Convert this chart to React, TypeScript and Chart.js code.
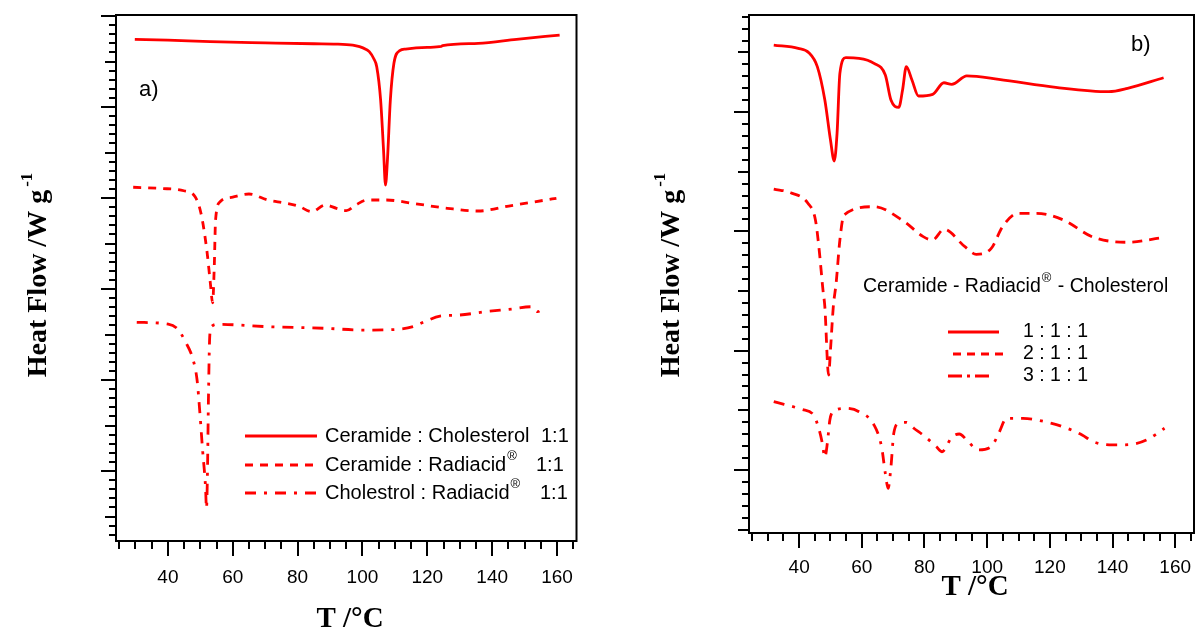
import React, { useEffect, useRef } from "react";
import { Chart, registerables } from "chart.js";

Chart.register(...registerables);

// ---------- Data (T in °C, heat flow in arbitrary offset units) ----------
// Panel a)
const ccT = [29.8, 40, 53.1, 70, 85, 92.0, 97, 99.1, 101, 102.1, 103.5, 104.4, 105.6, 106.5, 107.1, 107.7, 108.6, 109.7, 111.5, 113.3, 120, 124.3, 124.7, 135.7, 147.5, 160.8];
const ccHF = [4.744, 4.735, 4.718, 4.705, 4.695, 4.692, 4.68, 4.663, 4.635, 4.608, 4.53, 4.443, 4.077, 3.527, 3.143, 3.418, 4.077, 4.48, 4.619, 4.637, 4.655, 4.665, 4.675, 4.7, 4.744, 4.791];

const crT = [29.3, 38, 44.9, 48.4, 50.2, 52.0, 53.1, 53.8, 54.3, 54.7, 56.1, 60, 65.0, 70.8, 76, 80.2, 84.4, 88.5, 92.0, 95.0, 97.9, 101.5, 107.4, 115.6, 126.2, 135.7, 145.1, 159.8];
const crHF = [3.118, 3.105, 3.08, 3.014, 2.832, 2.429, 2.063, 1.849, 2.245, 2.758, 2.959, 3.01, 3.044, 2.978, 2.945, 2.912, 2.85, 2.923, 2.887, 2.861, 2.923, 2.978, 2.978, 2.941, 2.887, 2.857, 2.912, 2.997];

const chrT = [30.4, 40.1, 43.1, 45.4, 47.8, 49.0, 49.8, 50.7, 51.6, 51.9, 52.2, 52.5, 52.9, 53.4, 55.5, 70.8, 88.5, 100.3, 110.9, 115.6, 119.2, 123.9, 129.8, 138.0, 146, 152.2, 154.0, 156.3];
const chrHF = [1.634, 1.615, 1.557, 1.421, 1.22, 1.0, 0.67, 0.231, -0.172, -0.41, -0.026, 0.78, 1.476, 1.586, 1.612, 1.586, 1.568, 1.549, 1.557, 1.586, 1.641, 1.703, 1.714, 1.751, 1.78, 1.805, 1.751, 1.805];

// Panel b)
const s1T = [31.9, 39.7, 43.1, 45.8, 48.2, 50.0, 51.2, 52.1, 53.0, 54.9, 59.1, 63.9, 67.5, 69.3, 71.8, 73.0, 74.2, 76.0, 78.1, 82.6, 86.2, 88.7, 93.5, 103.7, 121.9, 138.8, 144.8, 156.3];
const s1HF = [3.562, 3.535, 3.498, 3.381, 3.101, 2.766, 2.59, 2.822, 3.325, 3.456, 3.451, 3.409, 3.311, 3.101, 3.04, 3.185, 3.381, 3.269, 3.135, 3.149, 3.246, 3.233, 3.303, 3.275, 3.208, 3.171, 3.199, 3.288];

const s2T = [31.9, 37.3, 42.8, 45.2, 46.4, 47.6, 48.2, 49.4, 50.0, 50.9, 51.8, 53.0, 54.3, 63.9, 73.6, 79.6, 82.6, 86.2, 92.9, 96.5, 101.3, 104.9, 109.8, 115.8, 124.3, 133.9, 144.8, 155.7];
const s2HF = [2.355, 2.324, 2.236, 2.096, 1.844, 1.509, 1.369, 0.796, 1.006, 1.369, 1.565, 1.928, 2.137, 2.207, 2.081, 1.956, 1.928, 2.018, 1.872, 1.808, 1.858, 2.039, 2.152, 2.152, 2.096, 1.951, 1.909, 1.947];

const s3T = [31.9, 40.9, 44.6, 46.4, 47.4, 48.2, 49.0, 49.8, 51.2, 54.9, 59.1, 63.9, 66.3, 67.5, 68.4, 69.3, 70.2, 71.8, 74.2, 76.6, 80.2, 83.8, 85.6, 88.7, 91.1, 93.5, 97.1, 101.3, 103.7, 106.2, 111.4, 120.6, 125.5, 130.3, 133.9, 140.0, 146.0, 150.8, 156.6];
const s3HF = [0.573, 0.508, 0.461, 0.335, 0.224, 0.106, 0.224, 0.419, 0.497, 0.517, 0.489, 0.377, 0.195, -0.028, -0.153, 0.028, 0.308, 0.391, 0.4, 0.35, 0.28, 0.195, 0.153, 0.274, 0.302, 0.251, 0.168, 0.195, 0.308, 0.433, 0.433, 0.391, 0.35, 0.293, 0.237, 0.21, 0.215, 0.251, 0.35];

const xTickLabels = [40, 60, 80, 100, 120, 140, 160];

const legendA = ["Ceramide : Cholesterol", "Ceramide : Radiacid", "Cholestrol : Radiacid"];
const legendB = ["1 : 1 : 1", "2 : 1 : 1", "3 : 1 : 1"];
const legendBTitle = ["Ceramide - Radiacid", " - Cholesterol"];

// ---------- Styles ----------
const RED = "#ff0000";
const SANS = "'Liberation Sans', Arial, Helvetica, sans-serif";
const SERIF = "'Liberation Serif', 'Times New Roman', Times, serif";
const DASH = [8, 7];
const DASHDOT = [11, 8, 3, 8];

const pts = (t: number[], h: number[]) => t.map((x, i) => ({ x, y: h[i] }));

type PanelCfg = {
  yMin: number;
  yMax: number;
  yTickFrom: number; // in tenths
  yTickTo: number;
  xTitle: [number, number];
  yTitle: [number, number];
  extra: (ctx: CanvasRenderingContext2D) => void;
};

function seg(ctx: CanvasRenderingContext2D, x1: number, y1: number, x2: number, y2: number) {
  ctx.beginPath();
  ctx.moveTo(x1, y1);
  ctx.lineTo(x2, y2);
  ctx.stroke();
}

function drawSupText(ctx: CanvasRenderingContext2D, x: number, y: number, main: string, sup: string, size: number, supSize: number, rise: number) {
  ctx.font = `${size}px ${SANS}`;
  ctx.textAlign = "left";
  ctx.textBaseline = "middle";
  ctx.fillText(main, x, y);
  const w = ctx.measureText(main).width;
  ctx.font = `${supSize}px ${SANS}`;
  ctx.fillText(sup, x + w + 1, y - rise);
  return x + w + 1 + ctx.measureText(sup).width;
}

function legendLine(ctx: CanvasRenderingContext2D, x1: number, x2: number, y: number, dash: number[]) {
  ctx.save();
  ctx.strokeStyle = RED;
  ctx.lineWidth = 2.8;
  ctx.setLineDash(dash);
  seg(ctx, x1, y, x2, y);
  ctx.restore();
}

function framePlugin(cfg: PanelCfg) {
  return {
    id: "frameTicks",
    afterDraw(chart: any) {
      const ctx: CanvasRenderingContext2D = chart.ctx;
      const { left, right, top, bottom } = chart.chartArea;
      const xs = chart.scales.x;
      const ys = chart.scales.y;
      ctx.save();
      ctx.strokeStyle = "#000";
      ctx.lineWidth = 2;
      ctx.strokeRect(left, top, right - left, bottom - top);
      for (let v = 25; v <= 165; v += 5) {
        const px = Math.round(xs.getPixelForValue(v));
        const len = v % 20 === 0 ? 15 : 8;
        seg(ctx, px, bottom, px, bottom + len);
      }
      for (let i = cfg.yTickFrom; i <= cfg.yTickTo; i++) {
        const py = Math.round(ys.getPixelForValue(i / 10));
        const len = i % 10 === 0 ? 15 : i % 5 === 0 ? 11 : 7;
        seg(ctx, left - len, py, left, py);
      }
      ctx.fillStyle = "#000";
      // x title
      ctx.font = `bold 29px ${SERIF}`;
      ctx.textAlign = "center";
      ctx.textBaseline = "middle";
      ctx.fillText("T /°C", cfg.xTitle[0], cfg.xTitle[1]);
      // y title (rotated)
      ctx.save();
      ctx.translate(cfg.yTitle[0], cfg.yTitle[1]);
      ctx.rotate(-Math.PI / 2);
      const main = "Heat Flow /W g";
      ctx.font = `bold 28px ${SERIF}`;
      const mw = ctx.measureText(main).width;
      ctx.font = `bold 17px ${SERIF}`;
      const sw = ctx.measureText("-1").width;
      const x0 = -(mw + 3 + sw) / 2;
      ctx.textAlign = "left";
      ctx.textBaseline = "alphabetic";
      ctx.font = `bold 28px ${SERIF}`;
      ctx.fillText(main, x0, 9);
      ctx.font = `bold 17px ${SERIF}`;
      ctx.fillText("-1", x0 + mw + 3, -5);
      ctx.restore();
      cfg.extra(ctx);
      ctx.restore();
    },
  };
}

function ds(t: number[], h: number[], dash: number[]) {
  return {
    data: pts(t, h),
    borderColor: RED,
    backgroundColor: RED,
    borderWidth: 2.8,
    borderDash: dash,
    pointRadius: 0,
    fill: false,
    cubicInterpolationMode: "monotone" as const,
  };
}

function makeConfig(datasets: any[], cfg: PanelCfg, pad: { left: number; right: number }, xHeight: number, labelPad: number) {
  return {
    type: "line" as const,
    data: { datasets },
    options: {
      responsive: false,
      animation: false as const,
      events: [],
      layout: { padding: { left: pad.left, right: pad.right, top: 15, bottom: 0 } },
      plugins: { legend: { display: false }, tooltip: { enabled: false }, title: { display: false } },
      scales: {
        x: {
          type: "linear" as const,
          min: 24,
          max: 166,
          grid: { display: false, drawTicks: false },
          border: { display: false },
          afterBuildTicks: (s: any) => {
            s.ticks = xTickLabels.map((v) => ({ value: v }));
          },
          afterFit: (s: any) => {
            s.height = xHeight;
            s.paddingLeft = 0;
            s.paddingRight = 0;
          },
          ticks: {
            font: { family: SANS, size: 19 },
            color: "#000",
            padding: labelPad,
            maxRotation: 0,
            autoSkip: false,
            callback: (v: any) => String(v),
          },
        },
        y: { type: "linear" as const, display: false, min: cfg.yMin, max: cfg.yMax },
      },
    },
    plugins: [framePlugin(cfg)],
  };
}

const cfgA: PanelCfg = {
  yMin: -0.769,
  yMax: 5.011,
  yTickFrom: -7,
  yTickTo: 50,
  xTitle: [350, 620],
  yTitle: [37, 275],
  extra: (ctx) => {
    ctx.fillStyle = "#000";
    ctx.font = `22px ${SANS}`;
    ctx.textAlign = "left";
    ctx.textBaseline = "middle";
    ctx.fillText("a)", 139, 90);
    const rows = [436, 465, 493];
    const dashes = [[], DASH, DASHDOT];
    const ratioX = [541, 536, 540];
    rows.forEach((y, i) => {
      legendLine(ctx, 245, 317, y, dashes[i]);
      ctx.fillStyle = "#000";
      if (i === 0) {
        ctx.font = `20px ${SANS}`;
        ctx.textAlign = "left";
        ctx.textBaseline = "middle";
        ctx.fillText(legendA[i], 325, y);
      } else {
        drawSupText(ctx, 325, y, legendA[i], "®", 20, 13, 9);
      }
      ctx.font = `20px ${SANS}`;
      ctx.textAlign = "left";
      ctx.textBaseline = "middle";
      ctx.fillText("1:1", ratioX[i], y);
    });
  },
};

const cfgB: PanelCfg = {
  yMin: -0.528,
  yMax: 3.814,
  yTickFrom: -5,
  yTickTo: 38,
  xTitle: [375, 588],
  yTitle: [70, 275],
  extra: (ctx) => {
    ctx.fillStyle = "#000";
    ctx.font = `22px ${SANS}`;
    ctx.textAlign = "left";
    ctx.textBaseline = "middle";
    ctx.fillText("b)", 531, 45);
    const end = drawSupText(ctx, 263, 287, legendBTitle[0], "®", 19.5, 13, 9);
    ctx.font = `19.5px ${SANS}`;
    ctx.textBaseline = "middle";
    ctx.fillText(legendBTitle[1], end + 1, 287);
    const rows = [332, 354, 376];
    const x1s = [348, 353, 348];
    const x2s = [399, 405, 392];
    const dashes = [[], [8, 6], [14, 5, 3, 5]];
    rows.forEach((y, i) => {
      legendLine(ctx, x1s[i], x2s[i], y, dashes[i]);
      ctx.fillStyle = "#000";
      ctx.font = `19.5px ${SANS}`;
      ctx.textAlign = "left";
      ctx.textBaseline = "middle";
      ctx.fillText(legendB[i], 423, y);
    });
  },
};

export default function App() {
  const refA = useRef<HTMLCanvasElement>(null);
  const refB = useRef<HTMLCanvasElement>(null);

  useEffect(() => {
    const a = new Chart(
      refA.current as HTMLCanvasElement,
      makeConfig(
        [ds(ccT, ccHF, []), ds(crT, crHF, DASH), ds(chrT, chrHF, DASHDOT)],
        cfgA,
        { left: 116, right: 23.5 },
        92,
        25
      ) as any
    );
    const b = new Chart(
      refB.current as HTMLCanvasElement,
      makeConfig(
        [ds(s1T, s1HF, []), ds(s2T, s2HF, [10, 7]), ds(s3T, s3HF, DASHDOT)],
        cfgB,
        { left: 149, right: 2 },
        100,
        23
      ) as any
    );
    return () => {
      a.destroy();
      b.destroy();
    };
  }, []);

  return (
    <div style={{ position: "fixed", left: 0, top: 0, width: 1196, height: 633, background: "#fff", overflow: "hidden" }}>
      <canvas ref={refA} width={600} height={633} style={{ position: "absolute", left: 0, top: 0 }} />
      <canvas ref={refB} width={596} height={633} style={{ position: "absolute", left: 600, top: 0 }} />
    </div>
  );
}
